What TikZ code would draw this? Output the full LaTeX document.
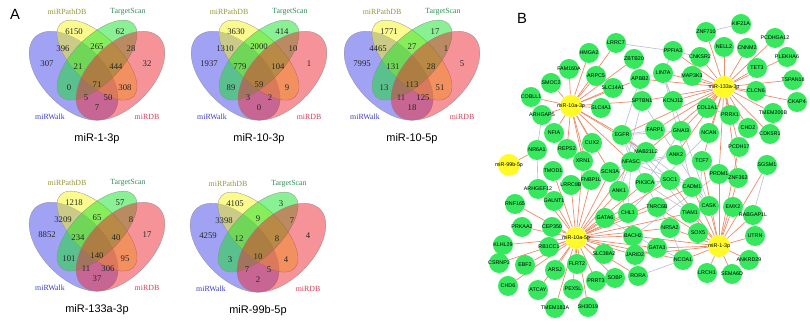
\documentclass[tikz,border=0pt]{standalone}
\usepackage{fontspec}
\setmainfont{Liberation Serif}
\setsansfont{Liberation Sans}
\usetikzlibrary{positioning, backgrounds}

\definecolor{vennblue}{RGB}{70,70,235}
\definecolor{vennyellow}{RGB}{245,245,30}
\definecolor{venngreen}{RGB}{20,225,40}
\definecolor{vennred}{RGB}{235,40,50}
\definecolor{pathdbcol}{RGB}{150,150,60}
\definecolor{tscancol}{RGB}{50,140,90}
\definecolor{walkcol}{RGB}{60,60,200}
\definecolor{mirdbcol}{RGB}{210,60,90}
\definecolor{genegreen}{RGB}{55,232,95}
\definecolor{mirnayellow}{RGB}{255,250,40}
\definecolor{targetedge}{RGB}{234,140,105}
\definecolor{ppiedge}{RGB}{188,190,215}

\tikzset{
vennset/.style={fill opacity=0.5, draw=black!45, line width=0.2pt}, % one ellipse of a venn
vennnum/.style={font=\fontsize{6.2}{7}\selectfont, text=black!85, inner sep=0pt},
setname/.style={font=\fontsize{5.6}{6}\selectfont, inner sep=0pt},
venntitle/.style={font=\sffamily\fontsize{7.8}{9}\selectfont, inner sep=0pt},
panel/.style={font=\sffamily\fontsize{10.5}{12}\selectfont, inner sep=0pt},
gene/.style={circle, fill=genegreen, minimum size=0.5cm, inner sep=0pt,
  label={[font=\sffamily\fontsize{3.8}{4}\selectfont, inner sep=0pt]center:#1}},
mirna/.style={gene={#1}, fill=mirnayellow, minimum size=0.55cm},
target/.style={draw=targetedge, line width=0.5pt},
ppi/.style={draw=ppiedge, line width=0.45pt},
}

% four set venn: #1,#2 centre in pixels, #3 region counts, #4 title
\newcommand{\vennfour}[4]{%
\begin{scope}[shift={(#1,-#2)}]
  \draw[vennset, fill=vennblue, rotate around={-45:(-23.4,-4.7)}] (-23.4,-4.7) ellipse (54.6 and 31.2);
  \draw[vennset, fill=vennyellow, rotate around={-45:(0,10.9)}] (0,10.9) ellipse (51.5 and 23.4);
  \draw[vennset, fill=venngreen, rotate around={45:(0,10.9)}] (0,10.9) ellipse (51.5 and 23.4);
  \draw[vennset, fill=vennred, rotate around={45:(23.4,-4.7)}] (23.4,-4.7) ellipse (54.6 and 31.2);
  \foreach \n [count=\k] in {#3} {
    \pgfmathsetmacro{\vx}{{-23,23,-34,0,34,-50,-19,19,50,-28,0,28,-11,11,0}[\k-1]}
    \pgfmathsetmacro{\vy}{{39,39,22,24,22,7,4,4,7,-17,-14,-17,-27,-27,-37}[\k-1]}
    \node[vennnum] at (\vx,\vy) {\n};
  }
  \node[setname, text=pathdbcol] at (-30,59) {miRPathDB};
  \node[setname, text=tscancol] at (31,59) {TargetScan};
  \node[setname, text=walkcol] at (-47,-46) {miRWalk};
  \node[setname, text=mirdbcol] at (50,-46) {miRDB};
  \node[venntitle] at (0,-68) {#4};
\end{scope}}

\begin{document}
\begin{tikzpicture}[x=0.025cm, y=0.025cm]
\useasboundingbox (0,0) rectangle (810,-326);

% panel A
\node[panel] (labelA) at (15,-14) {A};
\vennfour{97}{71}{6150,62,396,265,28,307,21,444,32,0,71,308,5,50,7}{miR-1-3p}
\vennfour{259}{71}{3630,414,1310,2000,10,1937,779,104,1,89,59,9,3,2,0}{miR-10-3p}
\vennfour{412}{71}{1771,17,4465,27,1,7995,131,28,5,13,113,51,11,125,18}{miR-10-5p}
\vennfour{97}{242}{1218,57,3209,65,8,8852,234,40,17,101,140,95,11,306,37}{miR-133a-3p}
\vennfour{258}{243}{4105,3,3398,9,7,4259,12,8,4,3,10,4,7,5,2}{miR-99b-5p}

% panel B
\node[panel] (labelB) at (522,-18) {B};

% miRNAs
\node[mirna=miR-10a-3p] (m10a3p) at (571,-106) {};
\node[mirna=miR-133a-3p] (m133a3p) at (724,-87) {};
\node[mirna=miR-99b-5p] (m99b5p) at (509,-165) {};
\node[mirna=miR-10a-5p] (m10a5p) at (576,-238) {};
\node[mirna=miR-1-3p] (m13p) at (719,-246) {};

% targets
\node[gene=LRRC7] (lrrc7) at (616,-43) {};
\node[gene=HMGA2] (hmga2) at (589,-53) {};
\node[gene=ZBTB20] (zbtb20) at (634,-59) {};
\node[gene=FAM160A] (fam160a) at (569,-69) {};
\node[gene=ARPC5] (arpc5) at (596,-76) {};
\node[gene=APBB2] (apbb2) at (640,-79) {};
\node[gene=SMOC2] (smoc2) at (551,-83) {};
\node[gene=SLC14A1] (slc14a1) at (613,-88) {};
\node[gene=COBLL1] (cobll1) at (531,-97) {};
\node[gene=SPTBN1] (sptbn1) at (642,-101) {};
\node[gene=SLC4A1] (slc4a1) at (601,-108) {};
\node[gene=KIF21A] (kif21a) at (741,-24) {};
\node[gene=ZNF710] (znf710) at (706,-32) {};
\node[gene=PCDHGA12] (pcdhga12) at (775,-38) {};
\node[gene=NELL2] (nell2) at (724,-47) {};
\node[gene=CNNM2] (cnnm2) at (747,-48) {};
\node[gene=PPFIA3] (ppfia3) at (673,-51) {};
\node[gene=CNKSR2] (cnksr2) at (700,-57) {};
\node[gene=PLEKHA6] (plekha6) at (787,-57) {};
\node[gene=TET3] (tet3) at (757,-68) {};
\node[gene=LIN7A] (lin7a) at (663,-73) {};
\node[gene=MAP3K3] (map3k3) at (692,-76) {};
\node[gene=TSPAN18] (tspan18) at (793,-80) {};
\node[gene=CLCN6] (clcn6) at (756,-91) {};
\node[gene=KCNJ12] (kcnj12) at (673,-101) {};
\node[gene=CKAP4] (ckap4) at (797,-102) {};
\node[gene=COL1A1] (col1a1) at (707,-108) {};
\node[gene=PRRX1] (prrx1) at (730,-115) {};
\node[gene=TMEM200B] (tmem200b) at (773,-113) {};
\node[gene=FARP1] (farp1) at (655,-130) {};
\node[gene=GNAI3] (gnai3) at (681,-131) {};
\node[gene=CHD2] (chd2) at (748,-128) {};
\node[gene=NCAN] (ncan) at (709,-133) {};
\node[gene=CDK5R1] (cdk5r1) at (770,-134) {};
\node[gene=ARHGAP5] (arhgap5) at (542,-115) {};
\node[gene=NFIA] (nfia) at (554,-133) {};
\node[gene=EGFR] (egfr) at (622,-135) {};
\node[gene=CUX2] (cux2) at (592,-143) {};
\node[gene=NR6A1] (nr6a1) at (537,-150) {};
\node[gene=REPS2] (reps2) at (567,-149) {};
\node[gene=MAB21L2] (mab21l2) at (646,-152) {};
\node[gene=ANK2] (ank2) at (676,-155) {};
\node[gene=PCDH17] (pcdh17) at (739,-147) {};
\node[gene=XRN1] (xrn1) at (583,-161) {};
\node[gene=NFASC] (nfasc) at (631,-162) {};
\node[gene=TCF7] (tcf7) at (702,-161) {};
\node[gene=SGSM1] (sgsm1) at (767,-165) {};
\node[gene=TMOD1] (tmod1) at (553,-171) {};
\node[gene=SCN3A] (scn3a) at (610,-172) {};
\node[gene=PRDM1] (prdm1) at (719,-174) {};
\node[gene=ZNF362] (znf362) at (738,-178) {};
\node[gene=FNBP1L] (fnbp1l) at (591,-180) {};
\node[gene=PIK3CA] (pik3ca) at (645,-183) {};
\node[gene=SOC1] (soc1) at (670,-180) {};
\node[gene=LRRC8B] (lrrc8b) at (571,-185) {};
\node[gene=CADM1] (cadm1) at (692,-187) {};
\node[gene=ARHGEF12] (arhgef12) at (538,-189) {};
\node[gene=ANK1] (ank1) at (619,-191) {};
\node[gene=RNF165] (rnf165) at (515,-204) {};
\node[gene=GALNT1] (galnt1) at (554,-201) {};
\node[gene=TNRC6B] (tnrc6b) at (657,-207) {};
\node[gene=CASK] (cask) at (709,-206) {};
\node[gene=EMX2] (emx2) at (733,-207) {};
\node[gene=CHL1] (chl1) at (628,-213) {};
\node[gene=TIAM1] (tiam1) at (690,-213) {};
\node[gene=RABGAP1L] (rabgap1l) at (753,-215) {};
\node[gene=GATA6] (gata6) at (605,-218) {};
\node[gene=PRKAA2] (prkaa2) at (522,-227) {};
\node[gene=CEP350] (cep350) at (552,-227) {};
\node[gene=NR5A2] (nr5a2) at (670,-228) {};
\node[gene=SOX5] (sox5) at (698,-233) {};
\node[gene=BACH2] (bach2) at (633,-236) {};
\node[gene=UTRN] (utrn) at (755,-236) {};
\node[gene=KLHL29] (klhl29) at (503,-245) {};
\node[gene=RB1CC1] (rb1cc1) at (549,-247) {};
\node[gene=GATA3] (gata3) at (657,-248) {};
\node[gene=SLC38A2] (slc38a2) at (604,-254) {};
\node[gene=JARID2] (jarid2) at (635,-255) {};
\node[gene=NCOA1] (ncoa1) at (683,-260) {};
\node[gene=ANKRD29] (ankrd29) at (749,-260) {};
\node[gene=CSRNP3] (csrnp3) at (499,-263) {};
\node[gene=EBF2] (ebf2) at (525,-265) {};
\node[gene=FLRT2] (flrt2) at (577,-264) {};
\node[gene=ARSJ] (arsj) at (555,-270) {};
\node[gene=LRCH1] (lrch1) at (707,-273) {};
\node[gene=SEMA6D] (sema6d) at (732,-274) {};
\node[gene=RORA] (rora) at (638,-276) {};
\node[gene=SOBP] (sobp) at (615,-278) {};
\node[gene=PRRT3] (prrt3) at (596,-281) {};
\node[gene=CHD6] (chd6) at (508,-286) {};
\node[gene=PEX5L] (pex5l) at (573,-289) {};
\node[gene=ATCAY] (atcay) at (538,-290) {};
\node[gene=SH3D19] (sh3d19) at (588,-307) {};
\node[gene=TMEM183A] (tmem183a) at (555,-308) {};

\begin{scope}[on background layer]
% protein interactions
\draw[ppi] (kif21a) edge (znf710) (lrrc7) edge (ppfia3)
  (ppfia3) edge (lin7a) edge (cnksr2) (cnksr2) edge (map3k3)
  (lin7a) edge (kcnj12) edge (cask) edge (apbb2) edge (cadm1)
  (sptbn1) edge (ank2) edge (ank1) (apbb2) edge (egfr)
  (egfr) edge (pik3ca) edge (soc1) edge (gnai3) edge (farp1) edge (mab21l2)
         edge (nfasc) edge (cadm1) edge (tiam1)
  (nfasc) edge (ank1) edge (ank2) edge (scn3a) edge (chl1) edge (cadm1)
  (ank1) edge (scn3a) (ank2) edge (scn3a) edge (cask)
  (pik3ca) edge (soc1) edge (tiam1) edge (gnai3) edge (nr5a2)
  (cadm1) edge (cask) (cask) edge (tiam1)
  (col1a1) edge (prrx1) (ncan) edge (chl1)
  (gata6) edge (gata3) (gata3) edge (ncoa1) edge (jarid2)
  (ncoa1) edge (nr5a2) edge (rora) (tcf7) edge (sox5) edge (prdm1)
  (prdm1) edge (bach2) (nr6a1) edge (arhgap5) edge (arhgef12)
  (sgsm1) edge (rabgap1l) (chl1) edge (ank1);
% miRNA targets
\draw[target] (m10a3p) edge (lrrc7) edge (hmga2) edge (zbtb20) edge (fam160a) edge (arpc5)
  edge (apbb2) edge (smoc2) edge (slc14a1) edge (cobll1) edge (sptbn1) edge (slc4a1)
  edge (arhgap5) edge (nfia) edge (egfr) edge (cux2) edge (reps2) edge (xrn1)
  edge (nfasc) edge (scn3a) edge (fnbp1l) edge (mab21l2);
\draw[target] (m133a3p) edge (znf710) edge (nell2) edge (cnnm2) edge (pcdhga12) edge (plekha6)
  edge (tet3) edge (tspan18) edge (clcn6) edge (ckap4) edge (tmem200b) edge (cdk5r1)
  edge (chd2) edge (prrx1) edge (col1a1) edge (cnksr2) edge (map3k3) edge (ppfia3)
  edge (lin7a) edge (kcnj12) edge (sptbn1) edge (apbb2) edge (ncan) edge (pcdh17)
  edge (znf362) edge (prdm1) edge (tcf7) edge (gnai3) edge (farp1) edge (ank2)
  edge (mab21l2) edge (egfr);
\draw[target] (m99b5p) edge (nr6a1);
\draw[target] (m10a5p) edge (rnf165) edge (galnt1) edge (arhgef12) edge (tmod1) edge (lrrc8b)
  edge (fnbp1l) edge (xrn1) edge (scn3a) edge (ank1) edge (nfasc) edge (pik3ca)
  edge (chl1) edge (gata6) edge (bach2) edge (soc1) edge (tnrc6b) edge (nr5a2)
  edge (tiam1) edge (gata3) edge (cadm1) edge (jarid2) edge (slc38a2) edge (rora)
  edge (sobp) edge (prrt3) edge (sh3d19) edge (pex5l) edge (tmem183a) edge (flrt2)
  edge (arsj) edge (atcay) edge (chd6) edge (ebf2) edge (csrnp3) edge (klhl29)
  edge (rb1cc1) edge (prkaa2) edge (cep350) edge (ncoa1);
\draw[target] (m13p) edge (cask) edge (emx2) edge (rabgap1l) edge (utrn) edge (ankrd29)
  edge (sema6d) edge (lrch1) edge (ncoa1) edge (sox5) edge (tiam1) edge (nr5a2)
  edge (gata3) edge (tnrc6b) edge (cadm1) edge (sgsm1) edge (znf362) edge (prdm1)
  edge (pcdh17) edge (tcf7) edge (bach2) edge (jarid2) edge (soc1);
\end{scope}
\end{tikzpicture}
\end{document}
